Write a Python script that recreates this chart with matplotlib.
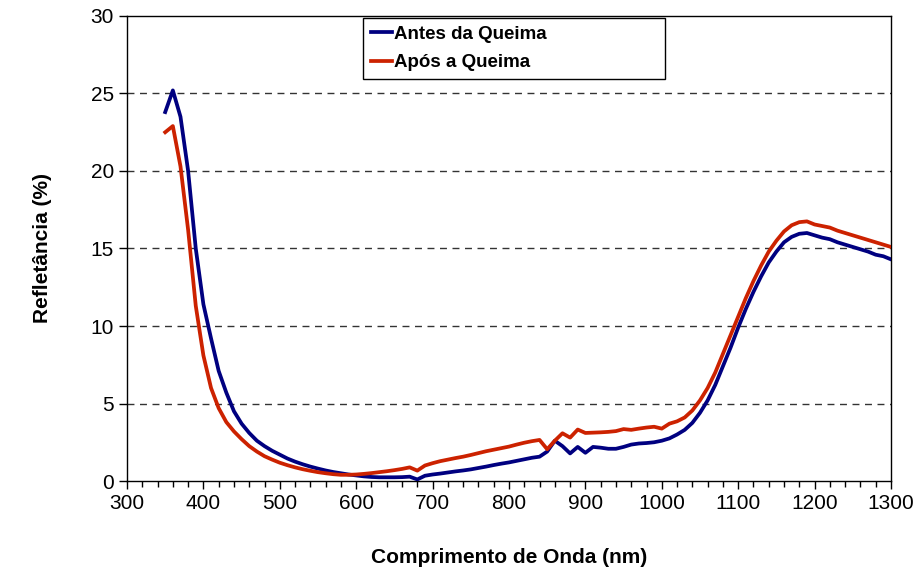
import numpy as np
import matplotlib
matplotlib.use('Agg')
import matplotlib.pyplot as plt
from matplotlib.ticker import MultipleLocator

plt.rcParams['font.family'] = ['Liberation Sans', 'DejaVu Sans']

# --- Data (10 nm steps) ---
wavelength = list(range(350, 1301, 10))

antes = [
    23.8, 25.2, 23.5, 20.0, 15.0, 11.4, 9.2, 7.1, 5.7, 4.5,
    3.7, 3.1, 2.6, 2.25, 1.95, 1.7, 1.45, 1.25, 1.08, 0.93,
    0.8, 0.68, 0.58, 0.5, 0.42, 0.36, 0.3, 0.26, 0.24, 0.24,
    0.24, 0.25, 0.28, 0.1, 0.34, 0.42, 0.48, 0.55, 0.62, 0.68,
    0.75, 0.84, 0.93, 1.03, 1.12, 1.2, 1.3, 1.4, 1.5, 1.57,
    1.9, 2.6, 2.25, 1.78, 2.2, 1.82, 2.2, 2.15, 2.08, 2.08,
    2.2, 2.35, 2.42, 2.45, 2.5, 2.6, 2.75, 3.0, 3.3, 3.75,
    4.4, 5.2, 6.2, 7.4, 8.6, 9.9, 11.1, 12.2, 13.2, 14.1,
    14.8, 15.4, 15.75, 15.95, 16.0, 15.85, 15.7, 15.6, 15.4, 15.25,
    15.1, 14.95, 14.8, 14.6, 14.5, 14.3,
]

apos = [
    22.5, 22.9, 20.3, 16.2, 11.3, 8.1, 6.0, 4.7, 3.8, 3.2,
    2.7, 2.25, 1.9, 1.6, 1.38, 1.18, 1.02, 0.88, 0.76, 0.66,
    0.57, 0.5, 0.44, 0.4, 0.4, 0.42, 0.46, 0.51, 0.57, 0.63,
    0.7, 0.78, 0.88, 0.67, 1.0, 1.15, 1.28, 1.38, 1.48, 1.57,
    1.68, 1.8, 1.92, 2.02, 2.12, 2.22, 2.35, 2.47, 2.57, 2.65,
    2.05, 2.6, 3.08, 2.8, 3.32, 3.1, 3.12, 3.14, 3.17, 3.22,
    3.35, 3.3, 3.38, 3.45, 3.5, 3.38, 3.7, 3.85, 4.1, 4.55,
    5.2, 6.0, 7.0, 8.2, 9.4, 10.6, 11.8, 12.9, 13.9, 14.8,
    15.5, 16.1, 16.5, 16.7, 16.75, 16.55, 16.45, 16.35, 16.15, 16.0,
    15.85, 15.7, 15.55, 15.4, 15.25, 15.1,
]

# --- Plot ---
fig = plt.figure(figsize=(9.19, 5.71), dpi=100)
ax = fig.add_axes([0.1382, 0.1576, 0.8313, 0.8144])

ax.plot(wavelength, antes, color='#000080', lw=2.7, label='Antes da Queima', zorder=3)
ax.plot(wavelength, apos, color='#CC2200', lw=2.7, label='Após a Queima', zorder=3)

ax.set_xlim(300, 1300)
ax.set_ylim(0, 30)
ax.xaxis.set_major_locator(MultipleLocator(100))
ax.xaxis.set_minor_locator(MultipleLocator(20))
ax.yaxis.set_major_locator(MultipleLocator(5))

# dashed horizontal grid
for y in [5, 10, 15, 20, 25]:
    ax.axhline(y, color='#333333', lw=1.0, ls=(0, (5, 4)), zorder=1)

ax.tick_params(axis='both', which='major', labelsize=15, length=6, width=1, direction='out')
ax.tick_params(axis='x', which='minor', length=4, width=1, direction='out')
for s in ax.spines.values():
    s.set_linewidth(1.0)
    s.set_color('black')

ax.set_xlabel('Comprimento de Onda (nm)', fontsize=15, fontweight='bold', labelpad=25)
ax.set_ylabel('Refletância (%)', fontsize=15, fontweight='bold', labelpad=28)

leg = ax.legend(loc='upper left', bbox_to_anchor=(0.309, 0.871, 0.395, 0.125),
                mode='expand', borderaxespad=0, fancybox=False, framealpha=1,
                edgecolor='black', handlelength=1.1, handletextpad=0.15,
                labelspacing=0.6, borderpad=0.42,
                prop={'size': 13.5, 'weight': 'bold'})
leg.get_frame().set_linewidth(1.0)

fig.savefig('out.png', dpi=100)
